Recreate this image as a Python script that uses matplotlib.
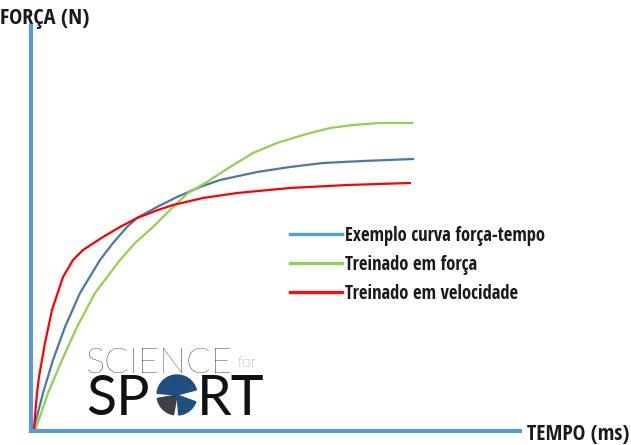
import matplotlib
matplotlib.use("Agg")
import matplotlib.pyplot as plt
from matplotlib.lines import Line2D
from matplotlib.patches import Wedge

# dados (tempo e força em unidades arbitrárias)
t_ex = [0, 9, 19, 31, 46, 66, 79, 93, 103, 123, 143, 166, 186, 223, 256, 289, 329, 379]
f_ex = [0, 35, 68, 101, 135, 168, 185, 201, 210, 221, 231, 241, 248, 256, 261, 265, 267, 269]

t_forca = [2, 14, 28, 43, 61, 86, 101, 119, 139, 154, 173, 196, 219, 243, 269, 296, 319, 346, 378]
f_forca = [0, 35, 68, 101, 135, 168, 185, 201, 221, 235, 246, 261, 275, 285, 293, 300, 303, 305, 305]

t_vel = [0, 3, 5, 11, 18, 29, 39, 49, 69, 86, 103, 124, 139, 169, 203, 256, 313, 376]
f_vel = [0, 35, 51, 85, 118, 151, 168, 178, 191, 201, 210, 218, 223, 230, 235, 240, 243, 245]

labels = ['Exemplo curva força-tempo', 'Treinado em força', 'Treinado em velocidade']
cores = ['#4a78a8', '#92d050', '#ff0000']
cores_leg = ['#4fa3d1', '#92d050', '#ee1111']

W, H = 631, 445
fig = plt.figure(figsize=(W/100, H/100), dpi=100)
ax = fig.add_axes([31/W, (H-431)/H, (520-31)/W, (431-26)/H])

ax.plot(t_ex, f_ex, color=cores[0], lw=1.6)
ax.plot(t_forca, f_forca, color=cores[1], lw=1.6)
ax.plot(t_vel, f_vel, color=cores[2], lw=1.6)

ax.set_xlim(-3, 486)
ax.set_ylim(-3, 402)
ax.set_xticks([])
ax.set_yticks([])
for s in ['top', 'right']:
    ax.spines[s].set_visible(False)
for s in ['left', 'bottom']:
    ax.spines[s].set_color('#5b9bd5')
    ax.spines[s].set_linewidth(3)

fonte = 'Open Sans Condensed'
hs = [Line2D([], [], color=c, lw=2.4) for c in cores_leg]
leg = fig.legend(hs, labels, loc='upper left', bbox_to_anchor=(290/W, 1-226/H),
                 frameon=False, handlelength=2.8, handletextpad=0.16,
                 labelspacing=0.48, borderaxespad=0, borderpad=0,
                 prop={'family': fonte, 'weight': 'bold', 'size': 13.4})
for t in leg.get_texts():
    t.set_color('#1a1a1a')

fig.text(0/W, 1-24/H, 'FORÇA (N)', family=fonte, weight='bold', fontsize=16, color='#1a1a1a')
fig.text(527/W, 1-440/H, 'TEMPO (ms)', family=fonte, weight='bold', fontsize=15.5, color='#1a1a1a')

# logo
fig.text(86/W, 1-373/H, 'SCIENCE', family='Lato', weight='light', fontsize=26, color='#111111')
fig.text(237/W, 1-367/H, 'for', family='Lato', weight='light', fontsize=11, color='#444444')
fig.text(86/W, 1-415/H, 'SP', family='Lato', weight='normal', fontsize=40, color='#111111')
fig.text(197/W, 1-415/H, 'RT', family='Lato', weight='normal', fontsize=40, color='#111111')
cx, cy, r = 177, 395, 20
ax_logo = fig.add_axes([0, 0, 1, 1], zorder=5)
ax_logo.set_xlim(0, W)
ax_logo.set_ylim(H, 0)
ax_logo.axis('off')
ax_logo.add_patch(Wedge((cx, cy), r, 185, 345, color='#1f4e80'))
ax_logo.add_patch(Wedge((cx, cy), r, 20, 85, color='#1f4e80'))
ax_logo.add_patch(Wedge((cx, cy), r, 100, 170, color='#3d4145'))

fig.savefig('out.png', dpi=100)
